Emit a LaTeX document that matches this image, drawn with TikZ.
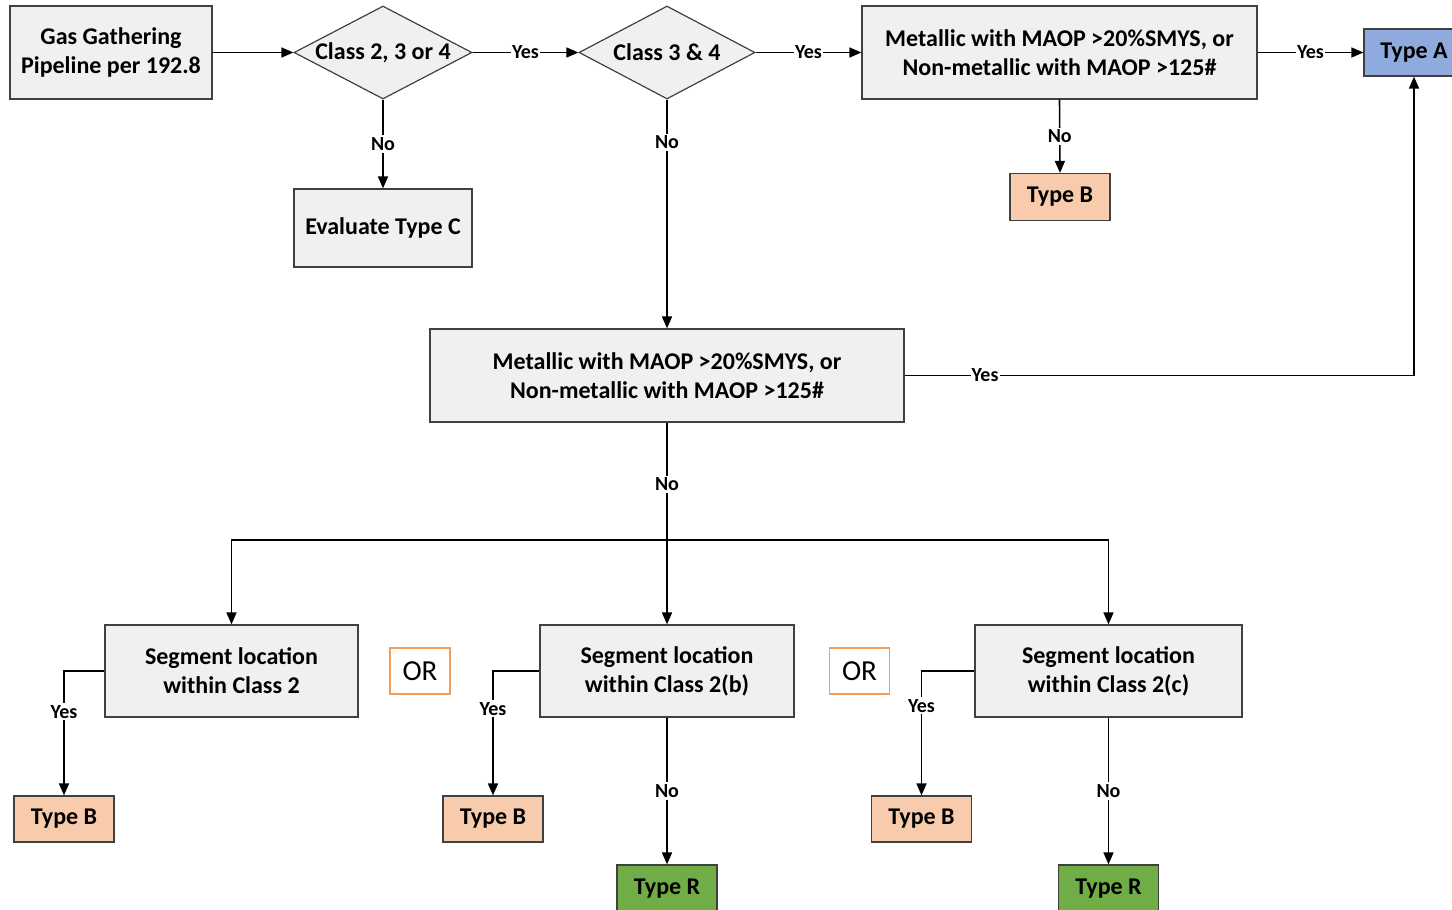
\documentclass[tikz,border=0pt]{standalone}
\usepackage{fontspec}
\setmainfont{Carlito}
\usetikzlibrary{shapes.geometric,arrows.meta}
\definecolor{boxgray}{RGB}{240,240,240}
\definecolor{bordgray}{RGB}{64,64,64}
\definecolor{typeA}{RGB}{143,170,220}
\definecolor{typeB}{RGB}{248,203,173}
\definecolor{typeR}{RGB}{112,173,71}
\definecolor{ororange}{RGB}{244,156,90}
\begin{document}
\begin{tikzpicture}[x=1pt,y=-1pt,
  every node/.style={font=\fontsize{24}{29}\selectfont\bfseries, align=center, text=black},
  box/.style={draw=bordgray, line width=1.2pt, fill=boxgray, inner sep=0pt},
  dia/.style={diamond, draw=bordgray, line width=1.2pt, fill=boxgray, inner sep=0pt, aspect=1.9},
  tbox/.style={draw=bordgray, line width=1.2pt, inner sep=0pt, minimum width=100pt, minimum height=47pt},
  orbox/.style={draw=ororange, line width=1.2pt, fill=white, inner sep=0pt, minimum width=60pt, minimum height=46pt, font=\fontsize{29}{34}\selectfont},
  lbl/.style={fill=white, inner xsep=1pt, inner ysep=2pt, font=\fontsize{20}{24}\selectfont\bfseries},
  conn/.style={line width=1.6pt},
  arr/.style={line width=1.6pt, -{Triangle[length=12pt,width=10pt]}}
]
\clip (0,0) rectangle (1452,910);
\useasboundingbox (0,0) rectangle (1452,910);

% top row
\node[box, minimum width=202pt, minimum height=93pt] (g) at (111,52.5) {Gas Gathering\\Pipeline per 192.8};
\node[dia, minimum width=178pt, minimum height=93pt] (d1) at (383,52.5) {Class 2, 3 or 4};
\node[dia, minimum width=176pt, minimum height=93pt] (d2) at (667,52.5) {Class 3 \& 4};
\node[box, minimum width=395pt, minimum height=93pt] (m1) at (1059.5,52.5) {Metallic with MAOP >20\%SMYS, or\\Non-metallic with MAOP >125\#};
\node[tbox, fill=typeA] (ta) at (1414,52.5) {Type A};

\node[box, minimum width=178pt, minimum height=78pt] (ec) at (383,228) {Evaluate Type C};
\node[tbox, fill=typeB] (tb0) at (1060,197) {Type B};

% middle
\node[box, minimum width=474pt, minimum height=93pt] (m2) at (667,375.5) {Metallic with MAOP >20\%SMYS, or\\Non-metallic with MAOP >125\#};
\coordinate (j) at (667,540);

% bottom row
\node[box, minimum width=253pt, minimum height=92pt] (s1) at (231.5,671) {Segment location\\within Class 2};
\node[box, minimum width=254pt, minimum height=92pt] (s2) at (667,671) {Segment location\\within Class 2(b)};
\node[box, minimum width=267pt, minimum height=92pt] (s3) at (1108.5,671) {Segment location\\within Class 2(c)};
\node[orbox] (or1) at (420,671) {OR};
\node[orbox] (or2) at (859.5,671) {OR};

\node[tbox, fill=typeB, minimum height=46pt] (tb1) at (64,819) {Type B};
\node[tbox, fill=typeB, minimum height=46pt] (tb2) at (493,819) {Type B};
\node[tbox, fill=typeB, minimum height=46pt] (tb3) at (921.5,819) {Type B};
\node[tbox, fill=typeR] (tr1) at (667,888.5) {Type R};
\node[tbox, fill=typeR] (tr2) at (1108.5,888.5) {Type R};

% connectors
\draw[arr] (g.east) -- (d1.west);
\draw[arr] (d1.east) -- node[lbl]{Yes} (d2.west);
\draw[arr] (d2.east) -- node[lbl]{Yes} (m1.west);
\draw[arr] (m1.east) -- node[lbl]{Yes} (ta.west);
\draw[arr] (d1.south) -- node[lbl]{No} (ec.north);
\draw[arr] (m1.south) -- node[lbl]{No} (tb0.north);
\draw[arr] (d2.south) -- node[lbl, pos=0.187]{No} (m2.north);
\draw[arr] (m2.east) -| node[lbl, pos=0.079]{Yes} (ta.south);
\draw[conn] (m2.south) -- node[lbl, pos=0.525]{No} (j);
\draw[arr] (j) -| (s1.north);
\draw[arr] (j) -| (s3.north);
\draw[arr] (j) -- (s2.north);

\draw[arr] (s1.west) -| node[lbl, pos=0.664]{Yes} (tb1.north);
\draw[arr] (s2.west) -| node[lbl, pos=0.652]{Yes} (tb2.north);
\draw[arr] (s3.west) -| node[lbl, pos=0.64]{Yes} (tb3.north);
\draw[arr] (s2.south) -- node[lbl]{No} (tr1.north);
\draw[arr] (s3.south) -- node[lbl]{No} (tr2.north);
\end{tikzpicture}
\end{document}
